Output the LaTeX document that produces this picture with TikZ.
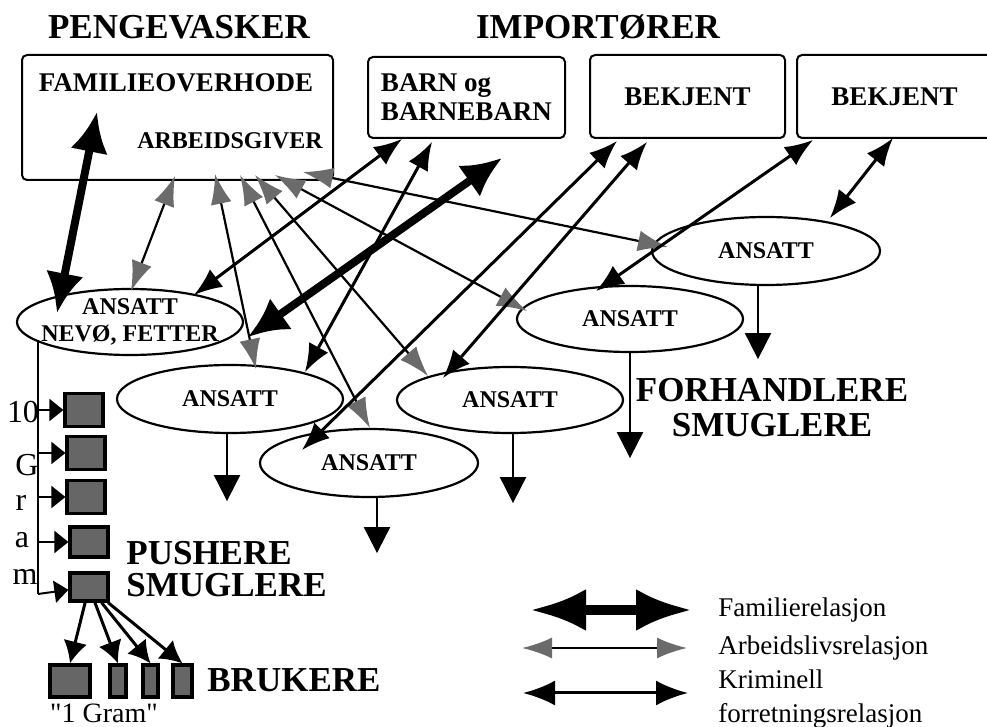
\documentclass[tikz,border=0pt]{standalone}
\usepackage{fontspec}
\setmainfont{Liberation Serif}
\newfontfamily\rawfont{Liberation Serif}[Ligatures=ResetAll]
\usetikzlibrary{arrows.meta,calc,shapes.geometric}

\begin{document}
\begin{tikzpicture}[x=0.5pt,y=-0.5pt,
  box/.style={draw,rounded corners=2.5pt,line width=1pt,inner sep=0pt},
  boxtxt/.style={inner sep=0pt,font=\fontsize{13.5}{14.5}\selectfont\bfseries},
  ans/.style={draw,ellipse,line width=1.1pt,inner sep=0pt,minimum width=113pt,minimum height=34pt,
    align=center,font=\fontsize{12}{13.5}\selectfont\bfseries},
  big/.style={inner sep=0pt,font=\fontsize{17.5}{17.5}\selectfont\bfseries},
  vert/.style={inner sep=0pt,font=\fontsize{16}{16}\selectfont},
  famrel/.style={line width=4pt,{Latex[length=20pt,width=19pt]}-{Latex[length=20pt,width=19pt]}},
  arbrel/.style={line width=1.1pt,{Latex[length=15pt,width=10.5pt,color=black!58]}-{Latex[length=15pt,width=10.5pt,color=black!58]}},
  krimrel/.style={line width=1.5pt,{Latex[length=14pt,width=11pt]}-{Latex[length=14pt,width=11pt]}},
  down/.style={line width=1pt,-{Triangle[length=13pt,width=13pt]}},
  gram/.style={draw,line width=1.6pt,fill=black!60,inner sep=0pt,minimum width=19pt,minimum height=16.5pt},
  feed/.style={line width=1pt,-{Triangle[length=7pt,width=11pt]}},
  sell/.style={line width=1.5pt,-{Latex[length=11pt,width=12pt]}},
  legtxt/.style={anchor=west,inner sep=0pt,align=left,font=\fontsize{13.5}{17}\selectfont}]

\useasboundingbox (0,0) rectangle (987,727);

\node[big] (pv) at (179,27) {PENGEVASKER};
\node[big] (imp) at (598,27) {IMPORTØRER};

\node[box,minimum width=155.5pt,minimum height=62.5pt] (famhode) at (177.5,117.5) {};
\node[boxtxt] (famtxt) at (176,83) {FAMILIEOVERHODE};
\node[boxtxt,font=\fontsize{12}{13}\selectfont\bfseries] (arbtxt) at (230,141) {ARBEIDSGIVER};
\node[box,boxtxt,align=left,minimum width=98.5pt,minimum height=40.5pt] (barn) at (466.5,97.5) {BARN og\\BARNEBARN};
\node[box,boxtxt,minimum width=97.5pt,minimum height=41.5pt] (bek1) at (687.5,96.5) {BEKJENT};
\node[box,boxtxt,minimum width=97.5pt,minimum height=41.5pt] (bek2) at (894.5,96.5) {BEKJENT};

\node[ans,inner xsep=-10pt,minimum height=33pt] (nev) at (130,322) {ANSATT\\NEVØ, FETTER};
\node[ans] (ansA) at (230,399) {ANSATT};
\node[ans,minimum width=109pt] (ansB) at (369,463) {ANSATT};
\node[ans,minimum height=33pt] (ansC) at (510,400) {ANSATT};
\node[ans,minimum height=33pt] (ansD) at (630,319) {ANSATT};
\node[ans,minimum width=114pt] (ansE) at (766,251) {ANSATT};

\draw[famrel] ($(famhode)+(-80.5,-5.5)$) -- ($(nev)+(-73,-9)$);
\draw[famrel] ($(barn)+(35.5,60.5)$) -- ($(nev)+(118,15)$);

\draw[arbrel] ($(famhode)+(-2.5,58.5)$) -- ($(nev)+(1,-31)$);
\draw[arbrel] ($(famhode)+(37.5,56.5)$) -- ($(ansA)+(26,-30)$);
\draw[arbrel] ($(famhode)+(62.5,57.5)$) -- ($(ansB)+(1,-35)$);
\draw[arbrel] ($(famhode)+(77.5,57.5)$) -- ($(ansC)+(-82,-24)$);
\draw[arbrel] ($(famhode)+(97.5,57.5)$) -- ($(ansD)+(-103,-8)$);
\draw[arbrel] ($(famhode)+(125.5,54.5)$) -- ($(ansE)+(-98,-4)$);

\draw[krimrel] ($(barn)+(-64.5,41.5)$) -- ($(nev)+(64,-27)$);
\draw[krimrel] ($(barn)+(-34.5,44.5)$) -- ($(ansA)+(75,-27)$);
\draw[krimrel] ($(bek1)+(-70.5,44.5)$) -- ($(ansB)+(-67,-13)$);
\draw[krimrel] ($(bek1)+(-40.5,45.5)$) -- ($(ansC)+(-67,-22)$);
\draw[krimrel] ($(bek2)+(-81.5,43.5)$) -- ($(ansD)+(-34,-28)$);
\draw[krimrel] ($(bek2)+(-1.5,41.5)$) -- ($(ansE)+(64,-33)$);

\draw[down] ($(ansA.south)+(-3,0)$) -- ++(0,67);
\draw[down] ($(ansB.south)+(8,0)$) -- ++(0,55);
\draw[down] ($(ansC.south)+(3,0)$) -- ++(0,69);
\draw[down] (ansD.south) -- ++(0,105);
\draw[down] ($(ansE.south)+(-8,0)$) -- ++(0,73);

\node[big,align=center,font=\fontsize{17.5}{17.5}\selectfont\bfseries] (forh) at (772,408) {FORHANDLERE\\SMUGLERE};

\coordinate (stem) at ($(nev)+(-92,18)$);
\coordinate (stemend) at (38,594);
\draw[line width=1pt] (stem) -- (stemend);

\node[vert] (v10) at (23,412) {10};
\node[vert] (vG) at (27,465) {G};
\node[vert] (vr) at (21,503) {r};
\node[vert] (va) at (22,540) {a};
\node[vert] (vm) at (25,577) {m};

\node[gram] (g1) at (84,410) {};
\node[gram] (g2) at (86,453) {};
\node[gram] (g3) at (86,497) {};
\node[gram,minimum height=15pt] (g4) at (89,542) {};
\node[gram,minimum height=14pt] (g5) at (89,587) {};

\draw[feed] (stem |- g1) -- (g1);
\draw[feed] (stem |- g2) -- (g2);
\draw[feed] (stem |- g3) -- (g3);
\draw[feed] (stem |- g4) -- (g4);
\draw[feed] (stemend) -- (g5);

\node[big,align=left,anchor=west,font=\fontsize{17.5}{16}\selectfont\bfseries] (push) at (126,569) {PUSHERE\\SMUGLERE};

\node[gram,minimum width=20pt,minimum height=16pt] (u1) at (70,681) {};
\node[gram,minimum width=8pt,minimum height=16pt] (u2) at (118,681) {};
\node[gram,minimum width=7.5pt,minimum height=16pt] (u3) at (150.5,681) {};
\node[gram,minimum width=9.5pt,minimum height=16pt] (u4) at (182.5,681) {};
\draw[sell] (g5) -- (u1.north);
\draw[sell] (g5) -- (u2.north);
\draw[sell] (g5) -- (u3.north);
\draw[sell] (g5) -- (u4.north);

\node[big,anchor=west] (bruk) at (207,680) {BRUKERE};
\node[inner sep=0pt,font=\fontsize{14}{14}\selectfont\rawfont] (gram1) at (104,713) {"1 Gram"};

\node[legtxt] (lfam) at (718,610) {Familierelasjon};
\node[legtxt] (larb) at (718,648) {Arbeidslivsrelasjon};
\node[legtxt] (lkrim) at (718,699) {Kriminell\\forretningsrelasjon};
\draw[famrel,line width=5pt,{Latex[length=28pt,width=21pt]}-{Latex[length=28pt,width=21pt]}] ($(lfam.west)+(-188,0)$) -- ($(lfam.west)+(-26,0)$);
\draw[arbrel] ($(larb.west)+(-196,0)$) -- ($(larb.west)+(-31,0)$);
\draw[krimrel,{Latex[length=16pt,width=12.5pt]}-{Latex[length=16pt,width=12.5pt]}] ($(lkrim.west)+(-195,-6)$) -- ($(lkrim.west)+(-30,-6)$);

\end{tikzpicture}
\end{document}
